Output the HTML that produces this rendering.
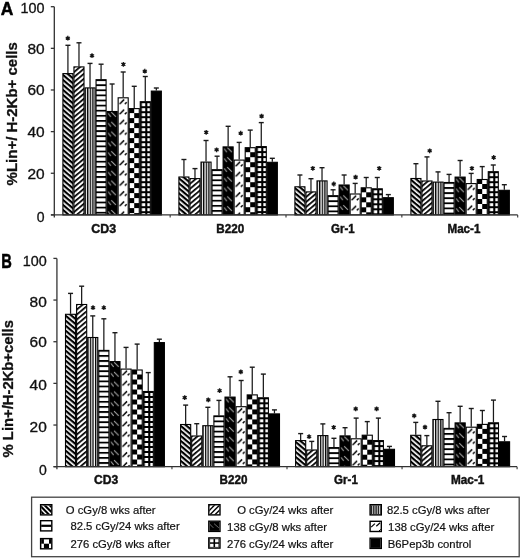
<!DOCTYPE html>
<html><head><meta charset="utf-8"><title>Chart</title>
<style>html,body{margin:0;padding:0;background:#fff;width:520px;height:558px;overflow:hidden;font-family:"Liberation Sans",sans-serif} svg{display:block;filter:grayscale(100%)}</style>
</head><body>
<svg width="520" height="558" viewBox="0 0 520 558"><defs><pattern id="p1" patternUnits="userSpaceOnUse" width="20" height="3.830" patternTransform="translate(62.40,73.10) rotate(40)"><rect width="20" height="3.830" fill="#fff"/><rect y="0" width="20" height="2.183" fill="#000"/></pattern><pattern id="p2" patternUnits="userSpaceOnUse" width="20" height="3.830" patternTransform="translate(73.45,66.40) rotate(-40)"><rect width="20" height="3.830" fill="#fff"/><rect y="0" width="20" height="1.724" fill="#000"/></pattern><pattern id="p3" patternUnits="userSpaceOnUse" x="84.50" y="87.40" width="2.6" height="10"><rect width="2.6" height="10" fill="#fff"/><rect x="0" width="1.3" height="10" fill="#000"/></pattern><pattern id="p4" patternUnits="userSpaceOnUse" x="95.55" y="79.20" width="20" height="5.1"><rect width="20" height="5.1" fill="#fff"/><rect y="0" width="20" height="1.8" fill="#000"/></pattern><pattern id="p5" patternUnits="userSpaceOnUse" x="106.60" y="111.00" width="11.05" height="9.8"><rect width="11.05" height="9.8" fill="#000"/><line x1="1.4" y1="2.2" x2="4.3" y2="5.8" stroke="#aaa" stroke-width="1"/><line x1="4.7" y1="1.1" x2="9.3" y2="5.8" stroke="#aaa" stroke-width="1"/></pattern><pattern id="p6" patternUnits="userSpaceOnUse" x="117.65" y="97.30" width="11.05" height="10.2"><rect width="11.05" height="10.2" fill="#fff"/><line x1="2.0" y1="6.7" x2="6.5" y2="2.2" stroke="#000" stroke-width="1.5"/><line x1="7.2" y1="6.7" x2="9.0" y2="4.9" stroke="#000" stroke-width="1.5"/></pattern><pattern id="p7" patternUnits="userSpaceOnUse" x="128.70" y="108.10" width="11.05" height="10"><rect width="11.05" height="10" fill="#fff"/><rect x="0" y="0" width="5.53" height="5" fill="#000"/><rect x="5.53" y="5" width="5.53" height="5" fill="#000"/></pattern><pattern id="p8" patternUnits="userSpaceOnUse" x="139.75" y="101.20" width="5.525" height="5"><rect width="5.525" height="5" fill="#fff"/><rect x="0" y="0" width="5.53" height="5" fill="#000"/><rect x="2.1" y="2" width="3.4" height="3" fill="#fff"/></pattern><pattern id="p9" patternUnits="userSpaceOnUse" width="20" height="3.830" patternTransform="translate(178.40,176.50) rotate(40)"><rect width="20" height="3.830" fill="#fff"/><rect y="0" width="20" height="2.183" fill="#000"/></pattern><pattern id="p10" patternUnits="userSpaceOnUse" width="20" height="3.830" patternTransform="translate(189.45,178.10) rotate(-40)"><rect width="20" height="3.830" fill="#fff"/><rect y="0" width="20" height="1.724" fill="#000"/></pattern><pattern id="p11" patternUnits="userSpaceOnUse" x="200.50" y="161.60" width="2.6" height="10"><rect width="2.6" height="10" fill="#fff"/><rect x="0" width="1.3" height="10" fill="#000"/></pattern><pattern id="p12" patternUnits="userSpaceOnUse" x="211.55" y="169.20" width="20" height="5.1"><rect width="20" height="5.1" fill="#fff"/><rect y="0" width="20" height="1.8" fill="#000"/></pattern><pattern id="p13" patternUnits="userSpaceOnUse" x="222.60" y="146.40" width="11.05" height="9.8"><rect width="11.05" height="9.8" fill="#000"/><line x1="1.4" y1="2.2" x2="4.3" y2="5.8" stroke="#aaa" stroke-width="1"/><line x1="4.7" y1="1.1" x2="9.3" y2="5.8" stroke="#aaa" stroke-width="1"/></pattern><pattern id="p14" patternUnits="userSpaceOnUse" x="233.65" y="159.60" width="11.05" height="10.2"><rect width="11.05" height="10.2" fill="#fff"/><line x1="2.0" y1="6.7" x2="6.5" y2="2.2" stroke="#000" stroke-width="1.5"/><line x1="7.2" y1="6.7" x2="9.0" y2="4.9" stroke="#000" stroke-width="1.5"/></pattern><pattern id="p15" patternUnits="userSpaceOnUse" x="244.70" y="147.20" width="11.05" height="10"><rect width="11.05" height="10" fill="#fff"/><rect x="0" y="0" width="5.53" height="5" fill="#000"/><rect x="5.53" y="5" width="5.53" height="5" fill="#000"/></pattern><pattern id="p16" patternUnits="userSpaceOnUse" x="255.75" y="146.10" width="5.525" height="5"><rect width="5.525" height="5" fill="#fff"/><rect x="0" y="0" width="5.53" height="5" fill="#000"/><rect x="2.1" y="2" width="3.4" height="3" fill="#fff"/></pattern><pattern id="p17" patternUnits="userSpaceOnUse" width="20" height="3.830" patternTransform="translate(294.40,186.30) rotate(40)"><rect width="20" height="3.830" fill="#fff"/><rect y="0" width="20" height="2.183" fill="#000"/></pattern><pattern id="p18" patternUnits="userSpaceOnUse" width="20" height="3.830" patternTransform="translate(305.45,191.40) rotate(-40)"><rect width="20" height="3.830" fill="#fff"/><rect y="0" width="20" height="1.724" fill="#000"/></pattern><pattern id="p19" patternUnits="userSpaceOnUse" x="316.50" y="180.40" width="2.6" height="10"><rect width="2.6" height="10" fill="#fff"/><rect x="0" width="1.3" height="10" fill="#000"/></pattern><pattern id="p20" patternUnits="userSpaceOnUse" x="327.55" y="195.20" width="20" height="5.1"><rect width="20" height="5.1" fill="#fff"/><rect y="0" width="20" height="1.8" fill="#000"/></pattern><pattern id="p21" patternUnits="userSpaceOnUse" x="338.60" y="184.50" width="11.05" height="9.8"><rect width="11.05" height="9.8" fill="#000"/><line x1="1.4" y1="2.2" x2="4.3" y2="5.8" stroke="#aaa" stroke-width="1"/><line x1="4.7" y1="1.1" x2="9.3" y2="5.8" stroke="#aaa" stroke-width="1"/></pattern><pattern id="p22" patternUnits="userSpaceOnUse" x="349.65" y="193.50" width="11.05" height="10.2"><rect width="11.05" height="10.2" fill="#fff"/><line x1="2.0" y1="6.7" x2="6.5" y2="2.2" stroke="#000" stroke-width="1.5"/><line x1="7.2" y1="6.7" x2="9.0" y2="4.9" stroke="#000" stroke-width="1.5"/></pattern><pattern id="p23" patternUnits="userSpaceOnUse" x="360.70" y="187.30" width="11.05" height="10"><rect width="11.05" height="10" fill="#fff"/><rect x="0" y="0" width="5.53" height="5" fill="#000"/><rect x="5.53" y="5" width="5.53" height="5" fill="#000"/></pattern><pattern id="p24" patternUnits="userSpaceOnUse" x="371.75" y="188.30" width="5.525" height="5"><rect width="5.525" height="5" fill="#fff"/><rect x="0" y="0" width="5.53" height="5" fill="#000"/><rect x="2.1" y="2" width="3.4" height="3" fill="#fff"/></pattern><pattern id="p25" patternUnits="userSpaceOnUse" width="20" height="3.830" patternTransform="translate(410.40,178.00) rotate(40)"><rect width="20" height="3.830" fill="#fff"/><rect y="0" width="20" height="2.183" fill="#000"/></pattern><pattern id="p26" patternUnits="userSpaceOnUse" width="20" height="3.830" patternTransform="translate(421.45,180.50) rotate(-40)"><rect width="20" height="3.830" fill="#fff"/><rect y="0" width="20" height="1.724" fill="#000"/></pattern><pattern id="p27" patternUnits="userSpaceOnUse" x="432.50" y="181.60" width="2.6" height="10"><rect width="2.6" height="10" fill="#fff"/><rect x="0" width="1.3" height="10" fill="#000"/></pattern><pattern id="p28" patternUnits="userSpaceOnUse" x="443.55" y="182.00" width="20" height="5.1"><rect width="20" height="5.1" fill="#fff"/><rect y="0" width="20" height="1.8" fill="#000"/></pattern><pattern id="p29" patternUnits="userSpaceOnUse" x="454.60" y="176.60" width="11.05" height="9.8"><rect width="11.05" height="9.8" fill="#000"/><line x1="1.4" y1="2.2" x2="4.3" y2="5.8" stroke="#aaa" stroke-width="1"/><line x1="4.7" y1="1.1" x2="9.3" y2="5.8" stroke="#aaa" stroke-width="1"/></pattern><pattern id="p30" patternUnits="userSpaceOnUse" x="465.65" y="183.10" width="11.05" height="10.2"><rect width="11.05" height="10.2" fill="#fff"/><line x1="2.0" y1="6.7" x2="6.5" y2="2.2" stroke="#000" stroke-width="1.5"/><line x1="7.2" y1="6.7" x2="9.0" y2="4.9" stroke="#000" stroke-width="1.5"/></pattern><pattern id="p31" patternUnits="userSpaceOnUse" x="476.70" y="179.00" width="11.05" height="10"><rect width="11.05" height="10" fill="#fff"/><rect x="0" y="0" width="5.53" height="5" fill="#000"/><rect x="5.53" y="5" width="5.53" height="5" fill="#000"/></pattern><pattern id="p32" patternUnits="userSpaceOnUse" x="487.75" y="171.20" width="5.525" height="5"><rect width="5.525" height="5" fill="#fff"/><rect x="0" y="0" width="5.53" height="5" fill="#000"/><rect x="2.1" y="2" width="3.4" height="3" fill="#fff"/></pattern><pattern id="p33" patternUnits="userSpaceOnUse" width="20" height="3.830" patternTransform="translate(65.00,313.80) rotate(40)"><rect width="20" height="3.830" fill="#fff"/><rect y="0" width="20" height="2.183" fill="#000"/></pattern><pattern id="p34" patternUnits="userSpaceOnUse" width="20" height="3.830" patternTransform="translate(76.10,304.00) rotate(-40)"><rect width="20" height="3.830" fill="#fff"/><rect y="0" width="20" height="1.724" fill="#000"/></pattern><pattern id="p35" patternUnits="userSpaceOnUse" x="87.20" y="337.00" width="2.6" height="10"><rect width="2.6" height="10" fill="#fff"/><rect x="0" width="1.3" height="10" fill="#000"/></pattern><pattern id="p36" patternUnits="userSpaceOnUse" x="98.30" y="349.90" width="20" height="5.1"><rect width="20" height="5.1" fill="#fff"/><rect y="0" width="20" height="1.8" fill="#000"/></pattern><pattern id="p37" patternUnits="userSpaceOnUse" x="109.40" y="361.10" width="11.1" height="9.8"><rect width="11.1" height="9.8" fill="#000"/><line x1="1.4" y1="2.2" x2="4.3" y2="5.8" stroke="#aaa" stroke-width="1"/><line x1="4.7" y1="1.1" x2="9.3" y2="5.8" stroke="#aaa" stroke-width="1"/></pattern><pattern id="p38" patternUnits="userSpaceOnUse" x="120.50" y="368.60" width="11.1" height="10.2"><rect width="11.1" height="10.2" fill="#fff"/><line x1="2.0" y1="6.7" x2="6.5" y2="2.2" stroke="#000" stroke-width="1.5"/><line x1="7.2" y1="6.7" x2="9.0" y2="4.9" stroke="#000" stroke-width="1.5"/></pattern><pattern id="p39" patternUnits="userSpaceOnUse" x="131.60" y="369.50" width="11.1" height="10"><rect width="11.1" height="10" fill="#fff"/><rect x="0" y="0" width="5.55" height="5" fill="#000"/><rect x="5.55" y="5" width="5.55" height="5" fill="#000"/></pattern><pattern id="p40" patternUnits="userSpaceOnUse" x="142.70" y="391.00" width="5.55" height="5"><rect width="5.55" height="5" fill="#fff"/><rect x="0" y="0" width="5.55" height="5" fill="#000"/><rect x="2.1" y="2" width="3.4" height="3" fill="#fff"/></pattern><pattern id="p41" patternUnits="userSpaceOnUse" width="20" height="3.830" patternTransform="translate(180.10,424.00) rotate(40)"><rect width="20" height="3.830" fill="#fff"/><rect y="0" width="20" height="2.183" fill="#000"/></pattern><pattern id="p42" patternUnits="userSpaceOnUse" width="20" height="3.830" patternTransform="translate(191.20,435.50) rotate(-40)"><rect width="20" height="3.830" fill="#fff"/><rect y="0" width="20" height="1.724" fill="#000"/></pattern><pattern id="p43" patternUnits="userSpaceOnUse" x="202.30" y="425.20" width="2.6" height="10"><rect width="2.6" height="10" fill="#fff"/><rect x="0" width="1.3" height="10" fill="#000"/></pattern><pattern id="p44" patternUnits="userSpaceOnUse" x="213.40" y="415.40" width="20" height="5.1"><rect width="20" height="5.1" fill="#fff"/><rect y="0" width="20" height="1.8" fill="#000"/></pattern><pattern id="p45" patternUnits="userSpaceOnUse" x="224.50" y="396.60" width="11.1" height="9.8"><rect width="11.1" height="9.8" fill="#000"/><line x1="1.4" y1="2.2" x2="4.3" y2="5.8" stroke="#aaa" stroke-width="1"/><line x1="4.7" y1="1.1" x2="9.3" y2="5.8" stroke="#aaa" stroke-width="1"/></pattern><pattern id="p46" patternUnits="userSpaceOnUse" x="235.60" y="406.20" width="11.1" height="10.2"><rect width="11.1" height="10.2" fill="#fff"/><line x1="2.0" y1="6.7" x2="6.5" y2="2.2" stroke="#000" stroke-width="1.5"/><line x1="7.2" y1="6.7" x2="9.0" y2="4.9" stroke="#000" stroke-width="1.5"/></pattern><pattern id="p47" patternUnits="userSpaceOnUse" x="246.70" y="394.40" width="11.1" height="10"><rect width="11.1" height="10" fill="#fff"/><rect x="0" y="0" width="5.55" height="5" fill="#000"/><rect x="5.55" y="5" width="5.55" height="5" fill="#000"/></pattern><pattern id="p48" patternUnits="userSpaceOnUse" x="257.80" y="397.30" width="5.55" height="5"><rect width="5.55" height="5" fill="#fff"/><rect x="0" y="0" width="5.55" height="5" fill="#000"/><rect x="2.1" y="2" width="3.4" height="3" fill="#fff"/></pattern><pattern id="p49" patternUnits="userSpaceOnUse" width="20" height="3.830" patternTransform="translate(295.10,440.10) rotate(40)"><rect width="20" height="3.830" fill="#fff"/><rect y="0" width="20" height="2.183" fill="#000"/></pattern><pattern id="p50" patternUnits="userSpaceOnUse" width="20" height="3.830" patternTransform="translate(306.20,449.50) rotate(-40)"><rect width="20" height="3.830" fill="#fff"/><rect y="0" width="20" height="1.724" fill="#000"/></pattern><pattern id="p51" patternUnits="userSpaceOnUse" x="317.30" y="435.10" width="2.6" height="10"><rect width="2.6" height="10" fill="#fff"/><rect x="0" width="1.3" height="10" fill="#000"/></pattern><pattern id="p52" patternUnits="userSpaceOnUse" x="328.40" y="447.10" width="20" height="5.1"><rect width="20" height="5.1" fill="#fff"/><rect y="0" width="20" height="1.8" fill="#000"/></pattern><pattern id="p53" patternUnits="userSpaceOnUse" x="339.50" y="435.40" width="11.1" height="9.8"><rect width="11.1" height="9.8" fill="#000"/><line x1="1.4" y1="2.2" x2="4.3" y2="5.8" stroke="#aaa" stroke-width="1"/><line x1="4.7" y1="1.1" x2="9.3" y2="5.8" stroke="#aaa" stroke-width="1"/></pattern><pattern id="p54" patternUnits="userSpaceOnUse" x="350.60" y="438.30" width="11.1" height="10.2"><rect width="11.1" height="10.2" fill="#fff"/><line x1="2.0" y1="6.7" x2="6.5" y2="2.2" stroke="#000" stroke-width="1.5"/><line x1="7.2" y1="6.7" x2="9.0" y2="4.9" stroke="#000" stroke-width="1.5"/></pattern><pattern id="p55" patternUnits="userSpaceOnUse" x="361.70" y="434.70" width="11.1" height="10"><rect width="11.1" height="10" fill="#fff"/><rect x="0" y="0" width="5.55" height="5" fill="#000"/><rect x="5.55" y="5" width="5.55" height="5" fill="#000"/></pattern><pattern id="p56" patternUnits="userSpaceOnUse" x="372.80" y="440.10" width="5.55" height="5"><rect width="5.55" height="5" fill="#fff"/><rect x="0" y="0" width="5.55" height="5" fill="#000"/><rect x="2.1" y="2" width="3.4" height="3" fill="#fff"/></pattern><pattern id="p57" patternUnits="userSpaceOnUse" width="20" height="3.830" patternTransform="translate(410.20,434.80) rotate(40)"><rect width="20" height="3.830" fill="#fff"/><rect y="0" width="20" height="2.183" fill="#000"/></pattern><pattern id="p58" patternUnits="userSpaceOnUse" width="20" height="3.830" patternTransform="translate(421.30,445.30) rotate(-40)"><rect width="20" height="3.830" fill="#fff"/><rect y="0" width="20" height="1.724" fill="#000"/></pattern><pattern id="p59" patternUnits="userSpaceOnUse" x="432.40" y="419.00" width="2.6" height="10"><rect width="2.6" height="10" fill="#fff"/><rect x="0" width="1.3" height="10" fill="#000"/></pattern><pattern id="p60" patternUnits="userSpaceOnUse" x="443.50" y="427.90" width="20" height="5.1"><rect width="20" height="5.1" fill="#fff"/><rect y="0" width="20" height="1.8" fill="#000"/></pattern><pattern id="p61" patternUnits="userSpaceOnUse" x="454.60" y="422.40" width="11.1" height="9.8"><rect width="11.1" height="9.8" fill="#000"/><line x1="1.4" y1="2.2" x2="4.3" y2="5.8" stroke="#aaa" stroke-width="1"/><line x1="4.7" y1="1.1" x2="9.3" y2="5.8" stroke="#aaa" stroke-width="1"/></pattern><pattern id="p62" patternUnits="userSpaceOnUse" x="465.70" y="426.70" width="11.1" height="10.2"><rect width="11.1" height="10.2" fill="#fff"/><line x1="2.0" y1="6.7" x2="6.5" y2="2.2" stroke="#000" stroke-width="1.5"/><line x1="7.2" y1="6.7" x2="9.0" y2="4.9" stroke="#000" stroke-width="1.5"/></pattern><pattern id="p63" patternUnits="userSpaceOnUse" x="476.80" y="423.90" width="11.1" height="10"><rect width="11.1" height="10" fill="#fff"/><rect x="0" y="0" width="5.55" height="5" fill="#000"/><rect x="5.55" y="5" width="5.55" height="5" fill="#000"/></pattern><pattern id="p64" patternUnits="userSpaceOnUse" x="487.90" y="422.30" width="5.55" height="5"><rect width="5.55" height="5" fill="#fff"/><rect x="0" y="0" width="5.55" height="5" fill="#000"/><rect x="2.1" y="2" width="3.4" height="3" fill="#fff"/></pattern><clipPath id="c1"><rect x="41.10" y="505.20" width="10.20" height="9.20"/></clipPath><clipPath id="c2"><rect x="41.10" y="521.20" width="10.20" height="9.20"/></clipPath><clipPath id="c3"><rect x="41.10" y="539.10" width="10.20" height="9.20"/></clipPath><clipPath id="c4"><rect x="209.30" y="505.20" width="10.20" height="9.20"/></clipPath><clipPath id="c5"><rect x="209.30" y="521.70" width="10.20" height="9.20"/></clipPath><clipPath id="c6"><rect x="209.30" y="538.40" width="10.20" height="9.20"/></clipPath><clipPath id="c7"><rect x="370.60" y="505.20" width="10.20" height="9.20"/></clipPath><clipPath id="c8"><rect x="370.60" y="521.80" width="10.20" height="9.20"/></clipPath><clipPath id="c9"><rect x="370.60" y="538.70" width="10.20" height="9.20"/></clipPath></defs><rect width="520" height="558" fill="#fff"/><line x1="67.92" y1="73.10" x2="67.92" y2="45.30" stroke="#1a1a1a" stroke-width="1.25"/>
<line x1="65.42" y1="45.30" x2="70.42" y2="45.30" stroke="#1a1a1a" stroke-width="1.4"/>
<rect x="62.90" y="73.60" width="10.05" height="141.30" fill="url(#p1)" stroke="#000" stroke-width="1.1"/>
<line x1="78.98" y1="66.40" x2="78.98" y2="42.80" stroke="#1a1a1a" stroke-width="1.25"/>
<line x1="76.48" y1="42.80" x2="81.48" y2="42.80" stroke="#1a1a1a" stroke-width="1.4"/>
<rect x="73.95" y="66.90" width="10.05" height="148.00" fill="url(#p2)" stroke="#000" stroke-width="1.1"/>
<line x1="90.03" y1="87.40" x2="90.03" y2="63.40" stroke="#1a1a1a" stroke-width="1.25"/>
<line x1="87.53" y1="63.40" x2="92.53" y2="63.40" stroke="#1a1a1a" stroke-width="1.4"/>
<rect x="85.00" y="87.90" width="10.05" height="127.00" fill="url(#p3)" stroke="#000" stroke-width="1.1"/>
<line x1="101.08" y1="79.20" x2="101.08" y2="64.20" stroke="#1a1a1a" stroke-width="1.25"/>
<line x1="98.58" y1="64.20" x2="103.58" y2="64.20" stroke="#1a1a1a" stroke-width="1.4"/>
<rect x="96.05" y="79.70" width="10.05" height="135.20" fill="url(#p4)" stroke="#000" stroke-width="1.1"/>
<line x1="112.12" y1="111.00" x2="112.12" y2="84.00" stroke="#1a1a1a" stroke-width="1.25"/>
<line x1="109.62" y1="84.00" x2="114.62" y2="84.00" stroke="#1a1a1a" stroke-width="1.4"/>
<rect x="107.10" y="111.50" width="10.05" height="103.40" fill="url(#p5)" stroke="#000" stroke-width="1.1"/>
<line x1="123.18" y1="97.30" x2="123.18" y2="72.00" stroke="#1a1a1a" stroke-width="1.25"/>
<line x1="120.68" y1="72.00" x2="125.68" y2="72.00" stroke="#1a1a1a" stroke-width="1.4"/>
<rect x="118.15" y="97.80" width="10.05" height="117.10" fill="url(#p6)" stroke="#000" stroke-width="1.1"/>
<line x1="134.23" y1="108.10" x2="134.23" y2="86.30" stroke="#1a1a1a" stroke-width="1.25"/>
<line x1="131.73" y1="86.30" x2="136.73" y2="86.30" stroke="#1a1a1a" stroke-width="1.4"/>
<rect x="129.20" y="108.60" width="10.05" height="106.30" fill="url(#p7)" stroke="#000" stroke-width="1.1"/>
<line x1="145.28" y1="101.20" x2="145.28" y2="76.50" stroke="#1a1a1a" stroke-width="1.25"/>
<line x1="142.78" y1="76.50" x2="147.78" y2="76.50" stroke="#1a1a1a" stroke-width="1.4"/>
<rect x="140.25" y="101.70" width="10.05" height="113.20" fill="url(#p8)" stroke="#000" stroke-width="1.1"/>
<line x1="156.33" y1="90.60" x2="156.33" y2="88.00" stroke="#1a1a1a" stroke-width="1.25"/>
<line x1="153.83" y1="88.00" x2="158.83" y2="88.00" stroke="#1a1a1a" stroke-width="1.4"/>
<rect x="151.30" y="91.10" width="10.05" height="123.80" fill="#000" stroke="#000" stroke-width="1.1"/>
<path d="M67.80,35.80L67.80,40.60M65.72,37.00L69.88,39.40M65.72,39.40L69.88,37.00" stroke="#222" stroke-width="1.4" fill="none"/><circle cx="67.80" cy="38.20" r="1.3" fill="#111"/>
<path d="M92.00,53.30L92.00,58.10M89.92,54.50L94.08,56.90M89.92,56.90L94.08,54.50" stroke="#222" stroke-width="1.4" fill="none"/><circle cx="92.00" cy="55.70" r="1.3" fill="#111"/>
<path d="M123.40,61.90L123.40,66.70M121.32,63.10L125.48,65.50M121.32,65.50L125.48,63.10" stroke="#222" stroke-width="1.4" fill="none"/><circle cx="123.40" cy="64.30" r="1.3" fill="#111"/>
<path d="M144.80,68.80L144.80,73.60M142.72,70.00L146.88,72.40M142.72,72.40L146.88,70.00" stroke="#222" stroke-width="1.4" fill="none"/><circle cx="144.80" cy="71.20" r="1.3" fill="#111"/>
<line x1="183.93" y1="176.50" x2="183.93" y2="159.50" stroke="#1a1a1a" stroke-width="1.25"/>
<line x1="181.43" y1="159.50" x2="186.43" y2="159.50" stroke="#1a1a1a" stroke-width="1.4"/>
<rect x="178.90" y="177.00" width="10.05" height="37.90" fill="url(#p9)" stroke="#000" stroke-width="1.1"/>
<line x1="194.98" y1="178.10" x2="194.98" y2="168.60" stroke="#1a1a1a" stroke-width="1.25"/>
<line x1="192.48" y1="168.60" x2="197.48" y2="168.60" stroke="#1a1a1a" stroke-width="1.4"/>
<rect x="189.95" y="178.60" width="10.05" height="36.30" fill="url(#p10)" stroke="#000" stroke-width="1.1"/>
<line x1="206.03" y1="161.60" x2="206.03" y2="140.50" stroke="#1a1a1a" stroke-width="1.25"/>
<line x1="203.53" y1="140.50" x2="208.53" y2="140.50" stroke="#1a1a1a" stroke-width="1.4"/>
<rect x="201.00" y="162.10" width="10.05" height="52.80" fill="url(#p11)" stroke="#000" stroke-width="1.1"/>
<line x1="217.08" y1="169.20" x2="217.08" y2="156.20" stroke="#1a1a1a" stroke-width="1.25"/>
<line x1="214.58" y1="156.20" x2="219.58" y2="156.20" stroke="#1a1a1a" stroke-width="1.4"/>
<rect x="212.05" y="169.70" width="10.05" height="45.20" fill="url(#p12)" stroke="#000" stroke-width="1.1"/>
<line x1="228.13" y1="146.40" x2="228.13" y2="126.30" stroke="#1a1a1a" stroke-width="1.25"/>
<line x1="225.63" y1="126.30" x2="230.63" y2="126.30" stroke="#1a1a1a" stroke-width="1.4"/>
<rect x="223.10" y="146.90" width="10.05" height="68.00" fill="url(#p13)" stroke="#000" stroke-width="1.1"/>
<line x1="239.18" y1="159.60" x2="239.18" y2="142.40" stroke="#1a1a1a" stroke-width="1.25"/>
<line x1="236.68" y1="142.40" x2="241.68" y2="142.40" stroke="#1a1a1a" stroke-width="1.4"/>
<rect x="234.15" y="160.10" width="10.05" height="54.80" fill="url(#p14)" stroke="#000" stroke-width="1.1"/>
<line x1="250.23" y1="147.20" x2="250.23" y2="130.10" stroke="#1a1a1a" stroke-width="1.25"/>
<line x1="247.73" y1="130.10" x2="252.73" y2="130.10" stroke="#1a1a1a" stroke-width="1.4"/>
<rect x="245.20" y="147.70" width="10.05" height="67.20" fill="url(#p15)" stroke="#000" stroke-width="1.1"/>
<line x1="261.27" y1="146.10" x2="261.27" y2="122.60" stroke="#1a1a1a" stroke-width="1.25"/>
<line x1="258.77" y1="122.60" x2="263.77" y2="122.60" stroke="#1a1a1a" stroke-width="1.4"/>
<rect x="256.25" y="146.60" width="10.05" height="68.30" fill="url(#p16)" stroke="#000" stroke-width="1.1"/>
<line x1="272.32" y1="161.80" x2="272.32" y2="158.30" stroke="#1a1a1a" stroke-width="1.25"/>
<line x1="269.82" y1="158.30" x2="274.82" y2="158.30" stroke="#1a1a1a" stroke-width="1.4"/>
<rect x="267.30" y="162.30" width="10.05" height="52.60" fill="#000" stroke="#000" stroke-width="1.1"/>
<path d="M206.20,129.90L206.20,134.70M204.12,131.10L208.28,133.50M204.12,133.50L208.28,131.10" stroke="#222" stroke-width="1.4" fill="none"/><circle cx="206.20" cy="132.30" r="1.3" fill="#111"/>
<path d="M216.60,147.40L216.60,152.20M214.52,148.60L218.68,151.00M214.52,151.00L218.68,148.60" stroke="#222" stroke-width="1.4" fill="none"/><circle cx="216.60" cy="149.80" r="1.3" fill="#111"/>
<path d="M240.70,130.80L240.70,135.60M238.62,132.00L242.78,134.40M238.62,134.40L242.78,132.00" stroke="#222" stroke-width="1.4" fill="none"/><circle cx="240.70" cy="133.20" r="1.3" fill="#111"/>
<path d="M261.60,113.70L261.60,118.50M259.52,114.90L263.68,117.30M259.52,117.30L263.68,114.90" stroke="#222" stroke-width="1.4" fill="none"/><circle cx="261.60" cy="116.10" r="1.3" fill="#111"/>
<line x1="299.92" y1="186.30" x2="299.92" y2="175.00" stroke="#1a1a1a" stroke-width="1.25"/>
<line x1="297.42" y1="175.00" x2="302.42" y2="175.00" stroke="#1a1a1a" stroke-width="1.4"/>
<rect x="294.90" y="186.80" width="10.05" height="28.10" fill="url(#p17)" stroke="#000" stroke-width="1.1"/>
<line x1="310.97" y1="191.40" x2="310.97" y2="178.70" stroke="#1a1a1a" stroke-width="1.25"/>
<line x1="308.47" y1="178.70" x2="313.47" y2="178.70" stroke="#1a1a1a" stroke-width="1.4"/>
<rect x="305.95" y="191.90" width="10.05" height="23.00" fill="url(#p18)" stroke="#000" stroke-width="1.1"/>
<line x1="322.02" y1="180.40" x2="322.02" y2="167.70" stroke="#1a1a1a" stroke-width="1.25"/>
<line x1="319.52" y1="167.70" x2="324.52" y2="167.70" stroke="#1a1a1a" stroke-width="1.4"/>
<rect x="317.00" y="180.90" width="10.05" height="34.00" fill="url(#p19)" stroke="#000" stroke-width="1.1"/>
<line x1="333.07" y1="195.20" x2="333.07" y2="189.80" stroke="#1a1a1a" stroke-width="1.25"/>
<line x1="330.57" y1="189.80" x2="335.57" y2="189.80" stroke="#1a1a1a" stroke-width="1.4"/>
<rect x="328.05" y="195.70" width="10.05" height="19.20" fill="url(#p20)" stroke="#000" stroke-width="1.1"/>
<line x1="344.12" y1="184.50" x2="344.12" y2="175.00" stroke="#1a1a1a" stroke-width="1.25"/>
<line x1="341.62" y1="175.00" x2="346.62" y2="175.00" stroke="#1a1a1a" stroke-width="1.4"/>
<rect x="339.10" y="185.00" width="10.05" height="29.90" fill="url(#p21)" stroke="#000" stroke-width="1.1"/>
<line x1="355.17" y1="193.50" x2="355.17" y2="183.40" stroke="#1a1a1a" stroke-width="1.25"/>
<line x1="352.67" y1="183.40" x2="357.67" y2="183.40" stroke="#1a1a1a" stroke-width="1.4"/>
<rect x="350.15" y="194.00" width="10.05" height="20.90" fill="url(#p22)" stroke="#000" stroke-width="1.1"/>
<line x1="366.22" y1="187.30" x2="366.22" y2="177.50" stroke="#1a1a1a" stroke-width="1.25"/>
<line x1="363.72" y1="177.50" x2="368.72" y2="177.50" stroke="#1a1a1a" stroke-width="1.4"/>
<rect x="361.20" y="187.80" width="10.05" height="27.10" fill="url(#p23)" stroke="#000" stroke-width="1.1"/>
<line x1="377.27" y1="188.30" x2="377.27" y2="177.50" stroke="#1a1a1a" stroke-width="1.25"/>
<line x1="374.77" y1="177.50" x2="379.77" y2="177.50" stroke="#1a1a1a" stroke-width="1.4"/>
<rect x="372.25" y="188.80" width="10.05" height="26.10" fill="url(#p24)" stroke="#000" stroke-width="1.1"/>
<line x1="388.32" y1="197.20" x2="388.32" y2="194.60" stroke="#1a1a1a" stroke-width="1.25"/>
<line x1="385.82" y1="194.60" x2="390.82" y2="194.60" stroke="#1a1a1a" stroke-width="1.4"/>
<rect x="383.30" y="197.70" width="10.05" height="17.20" fill="#000" stroke="#000" stroke-width="1.1"/>
<path d="M312.80,165.90L312.80,170.70M310.72,167.10L314.88,169.50M310.72,169.50L314.88,167.10" stroke="#222" stroke-width="1.4" fill="none"/><circle cx="312.80" cy="168.30" r="1.3" fill="#111"/>
<path d="M333.80,181.60L333.80,186.40M331.72,182.80L335.88,185.20M331.72,185.20L335.88,182.80" stroke="#222" stroke-width="1.4" fill="none"/><circle cx="333.80" cy="184.00" r="1.3" fill="#111"/>
<path d="M355.60,174.70L355.60,179.50M353.52,175.90L357.68,178.30M353.52,178.30L357.68,175.90" stroke="#222" stroke-width="1.4" fill="none"/><circle cx="355.60" cy="177.10" r="1.3" fill="#111"/>
<path d="M379.20,165.90L379.20,170.70M377.12,167.10L381.28,169.50M377.12,169.50L381.28,167.10" stroke="#222" stroke-width="1.4" fill="none"/><circle cx="379.20" cy="168.30" r="1.3" fill="#111"/>
<line x1="415.92" y1="178.00" x2="415.92" y2="163.70" stroke="#1a1a1a" stroke-width="1.25"/>
<line x1="413.42" y1="163.70" x2="418.42" y2="163.70" stroke="#1a1a1a" stroke-width="1.4"/>
<rect x="410.90" y="178.50" width="10.05" height="36.40" fill="url(#p25)" stroke="#000" stroke-width="1.1"/>
<line x1="426.97" y1="180.50" x2="426.97" y2="156.90" stroke="#1a1a1a" stroke-width="1.25"/>
<line x1="424.47" y1="156.90" x2="429.47" y2="156.90" stroke="#1a1a1a" stroke-width="1.4"/>
<rect x="421.95" y="181.00" width="10.05" height="33.90" fill="url(#p26)" stroke="#000" stroke-width="1.1"/>
<line x1="438.02" y1="181.60" x2="438.02" y2="171.90" stroke="#1a1a1a" stroke-width="1.25"/>
<line x1="435.52" y1="171.90" x2="440.52" y2="171.90" stroke="#1a1a1a" stroke-width="1.4"/>
<rect x="433.00" y="182.10" width="10.05" height="32.80" fill="url(#p27)" stroke="#000" stroke-width="1.1"/>
<line x1="449.07" y1="182.00" x2="449.07" y2="174.40" stroke="#1a1a1a" stroke-width="1.25"/>
<line x1="446.57" y1="174.40" x2="451.57" y2="174.40" stroke="#1a1a1a" stroke-width="1.4"/>
<rect x="444.05" y="182.50" width="10.05" height="32.40" fill="url(#p28)" stroke="#000" stroke-width="1.1"/>
<line x1="460.12" y1="176.60" x2="460.12" y2="160.50" stroke="#1a1a1a" stroke-width="1.25"/>
<line x1="457.62" y1="160.50" x2="462.62" y2="160.50" stroke="#1a1a1a" stroke-width="1.4"/>
<rect x="455.10" y="177.10" width="10.05" height="37.80" fill="url(#p29)" stroke="#000" stroke-width="1.1"/>
<line x1="471.17" y1="183.10" x2="471.17" y2="173.40" stroke="#1a1a1a" stroke-width="1.25"/>
<line x1="468.67" y1="173.40" x2="473.67" y2="173.40" stroke="#1a1a1a" stroke-width="1.4"/>
<rect x="466.15" y="183.60" width="10.05" height="31.30" fill="url(#p30)" stroke="#000" stroke-width="1.1"/>
<line x1="482.22" y1="179.00" x2="482.22" y2="166.60" stroke="#1a1a1a" stroke-width="1.25"/>
<line x1="479.72" y1="166.60" x2="484.72" y2="166.60" stroke="#1a1a1a" stroke-width="1.4"/>
<rect x="477.20" y="179.50" width="10.05" height="35.40" fill="url(#p31)" stroke="#000" stroke-width="1.1"/>
<line x1="493.27" y1="171.20" x2="493.27" y2="165.00" stroke="#1a1a1a" stroke-width="1.25"/>
<line x1="490.77" y1="165.00" x2="495.77" y2="165.00" stroke="#1a1a1a" stroke-width="1.4"/>
<rect x="488.25" y="171.70" width="10.05" height="43.20" fill="url(#p32)" stroke="#000" stroke-width="1.1"/>
<line x1="504.32" y1="189.80" x2="504.32" y2="184.70" stroke="#1a1a1a" stroke-width="1.25"/>
<line x1="501.82" y1="184.70" x2="506.82" y2="184.70" stroke="#1a1a1a" stroke-width="1.4"/>
<rect x="499.30" y="190.30" width="10.05" height="24.60" fill="#000" stroke="#000" stroke-width="1.1"/>
<path d="M429.70,148.40L429.70,153.20M427.62,149.60L431.78,152.00M427.62,152.00L431.78,149.60" stroke="#222" stroke-width="1.4" fill="none"/><circle cx="429.70" cy="150.80" r="1.3" fill="#111"/>
<path d="M471.90,165.90L471.90,170.70M469.82,167.10L473.98,169.50M469.82,169.50L473.98,167.10" stroke="#222" stroke-width="1.4" fill="none"/><circle cx="471.90" cy="168.30" r="1.3" fill="#111"/>
<path d="M493.70,155.10L493.70,159.90M491.62,156.30L495.78,158.70M491.62,158.70L495.78,156.30" stroke="#222" stroke-width="1.4" fill="none"/><circle cx="493.70" cy="157.50" r="1.3" fill="#111"/>
<line x1="54.30" y1="6.70" x2="54.30" y2="217.40" stroke="#2a2a2a" stroke-width="1.25"/>
<line x1="51.00" y1="214.90" x2="517.70" y2="214.90" stroke="#333" stroke-width="1.3"/>
<line x1="50.80" y1="6.70" x2="54.30" y2="6.70" stroke="#333" stroke-width="1.3"/>
<line x1="50.80" y1="48.34" x2="54.30" y2="48.34" stroke="#333" stroke-width="1.3"/>
<line x1="50.80" y1="89.98" x2="54.30" y2="89.98" stroke="#333" stroke-width="1.3"/>
<line x1="50.80" y1="131.62" x2="54.30" y2="131.62" stroke="#333" stroke-width="1.3"/>
<line x1="50.80" y1="173.26" x2="54.30" y2="173.26" stroke="#333" stroke-width="1.3"/>
<line x1="50.80" y1="214.90" x2="54.30" y2="214.90" stroke="#333" stroke-width="1.3"/>
<line x1="170.15" y1="214.90" x2="170.15" y2="217.40" stroke="#333" stroke-width="1.1"/>
<line x1="286.00" y1="214.90" x2="286.00" y2="217.40" stroke="#333" stroke-width="1.1"/>
<line x1="401.85" y1="214.90" x2="401.85" y2="217.40" stroke="#333" stroke-width="1.1"/>
<line x1="517.70" y1="214.90" x2="517.70" y2="217.40" stroke="#333" stroke-width="1.1"/>
<text x="20.60" y="12.64" font-size="13.8" font-family="Liberation Sans, sans-serif" textLength="24.0" lengthAdjust="spacingAndGlyphs" fill="#111" stroke="#111" stroke-width="0.3">100</text>
<text x="27.40" y="53.64" font-size="13.8" font-family="Liberation Sans, sans-serif" textLength="17.2" lengthAdjust="spacingAndGlyphs" fill="#111" stroke="#111" stroke-width="0.3">80</text>
<text x="27.40" y="95.24" font-size="13.8" font-family="Liberation Sans, sans-serif" textLength="17.2" lengthAdjust="spacingAndGlyphs" fill="#111" stroke="#111" stroke-width="0.3">60</text>
<text x="27.40" y="136.94" font-size="13.8" font-family="Liberation Sans, sans-serif" textLength="17.2" lengthAdjust="spacingAndGlyphs" fill="#111" stroke="#111" stroke-width="0.3">40</text>
<text x="27.40" y="178.74" font-size="13.8" font-family="Liberation Sans, sans-serif" textLength="17.2" lengthAdjust="spacingAndGlyphs" fill="#111" stroke="#111" stroke-width="0.3">20</text>
<text x="36.80" y="221.64" font-size="13.8" font-family="Liberation Sans, sans-serif" textLength="7.8" lengthAdjust="spacingAndGlyphs" fill="#111" stroke="#111" stroke-width="0.3">0</text>
<text x="91.30" y="233.10" font-size="12.6" font-weight="bold" font-family="Liberation Sans, sans-serif" textLength="24.80" lengthAdjust="spacingAndGlyphs" fill="#111" stroke="#111" stroke-width="0.45">CD3</text>
<text x="216.30" y="233.10" font-size="12.6" font-weight="bold" font-family="Liberation Sans, sans-serif" textLength="27.90" lengthAdjust="spacingAndGlyphs" fill="#111" stroke="#111" stroke-width="0.45">B220</text>
<text x="331.00" y="233.10" font-size="12.6" font-weight="bold" font-family="Liberation Sans, sans-serif" textLength="23.60" lengthAdjust="spacingAndGlyphs" fill="#111" stroke="#111" stroke-width="0.45">Gr-1</text>
<text x="447.50" y="233.10" font-size="12.6" font-weight="bold" font-family="Liberation Sans, sans-serif" textLength="32.90" lengthAdjust="spacingAndGlyphs" fill="#111" stroke="#111" stroke-width="0.45">Mac-1</text>
<text x="0.80" y="14.80" font-size="18.5" font-weight="bold" font-family="Liberation Sans, sans-serif" textLength="12.60" lengthAdjust="spacingAndGlyphs" fill="#000" stroke="#000" stroke-width="0.5">A</text>
<text transform="translate(17.20,185.40) rotate(-90)" x="0" y="0" font-size="14.6" font-weight="bold" font-family="Liberation Sans, sans-serif" textLength="143.20" lengthAdjust="spacingAndGlyphs" fill="#111" stroke="#111" stroke-width="0.3">%Lin+/ H-2Kb+ cells</text>
<line x1="70.55" y1="313.80" x2="70.55" y2="293.40" stroke="#1a1a1a" stroke-width="1.25"/>
<line x1="68.05" y1="293.40" x2="73.05" y2="293.40" stroke="#1a1a1a" stroke-width="1.4"/>
<rect x="65.50" y="314.30" width="10.10" height="152.40" fill="url(#p33)" stroke="#000" stroke-width="1.1"/>
<line x1="81.65" y1="304.00" x2="81.65" y2="286.20" stroke="#1a1a1a" stroke-width="1.25"/>
<line x1="79.15" y1="286.20" x2="84.15" y2="286.20" stroke="#1a1a1a" stroke-width="1.4"/>
<rect x="76.60" y="304.50" width="10.10" height="162.20" fill="url(#p34)" stroke="#000" stroke-width="1.1"/>
<line x1="92.75" y1="337.00" x2="92.75" y2="315.90" stroke="#1a1a1a" stroke-width="1.25"/>
<line x1="90.25" y1="315.90" x2="95.25" y2="315.90" stroke="#1a1a1a" stroke-width="1.4"/>
<rect x="87.70" y="337.50" width="10.10" height="129.20" fill="url(#p35)" stroke="#000" stroke-width="1.1"/>
<line x1="103.85" y1="349.90" x2="103.85" y2="318.80" stroke="#1a1a1a" stroke-width="1.25"/>
<line x1="101.35" y1="318.80" x2="106.35" y2="318.80" stroke="#1a1a1a" stroke-width="1.4"/>
<rect x="98.80" y="350.40" width="10.10" height="116.30" fill="url(#p36)" stroke="#000" stroke-width="1.1"/>
<line x1="114.95" y1="361.10" x2="114.95" y2="332.70" stroke="#1a1a1a" stroke-width="1.25"/>
<line x1="112.45" y1="332.70" x2="117.45" y2="332.70" stroke="#1a1a1a" stroke-width="1.4"/>
<rect x="109.90" y="361.60" width="10.10" height="105.10" fill="url(#p37)" stroke="#000" stroke-width="1.1"/>
<line x1="126.05" y1="368.60" x2="126.05" y2="347.40" stroke="#1a1a1a" stroke-width="1.25"/>
<line x1="123.55" y1="347.40" x2="128.55" y2="347.40" stroke="#1a1a1a" stroke-width="1.4"/>
<rect x="121.00" y="369.10" width="10.10" height="97.60" fill="url(#p38)" stroke="#000" stroke-width="1.1"/>
<line x1="137.15" y1="369.50" x2="137.15" y2="344.10" stroke="#1a1a1a" stroke-width="1.25"/>
<line x1="134.65" y1="344.10" x2="139.65" y2="344.10" stroke="#1a1a1a" stroke-width="1.4"/>
<rect x="132.10" y="370.00" width="10.10" height="96.70" fill="url(#p39)" stroke="#000" stroke-width="1.1"/>
<line x1="148.25" y1="391.00" x2="148.25" y2="372.60" stroke="#1a1a1a" stroke-width="1.25"/>
<line x1="145.75" y1="372.60" x2="150.75" y2="372.60" stroke="#1a1a1a" stroke-width="1.4"/>
<rect x="143.20" y="391.50" width="10.10" height="75.20" fill="url(#p40)" stroke="#000" stroke-width="1.1"/>
<line x1="159.35" y1="342.10" x2="159.35" y2="339.20" stroke="#1a1a1a" stroke-width="1.25"/>
<line x1="156.85" y1="339.20" x2="161.85" y2="339.20" stroke="#1a1a1a" stroke-width="1.4"/>
<rect x="154.30" y="342.60" width="10.10" height="124.10" fill="#000" stroke="#000" stroke-width="1.1"/>
<path d="M93.00,305.30L93.00,310.10M90.92,306.50L95.08,308.90M90.92,308.90L95.08,306.50" stroke="#222" stroke-width="1.4" fill="none"/><circle cx="93.00" cy="307.70" r="1.3" fill="#111"/>
<path d="M103.80,305.30L103.80,310.10M101.72,306.50L105.88,308.90M101.72,308.90L105.88,306.50" stroke="#222" stroke-width="1.4" fill="none"/><circle cx="103.80" cy="307.70" r="1.3" fill="#111"/>
<line x1="185.65" y1="424.00" x2="185.65" y2="405.10" stroke="#1a1a1a" stroke-width="1.25"/>
<line x1="183.15" y1="405.10" x2="188.15" y2="405.10" stroke="#1a1a1a" stroke-width="1.4"/>
<rect x="180.60" y="424.50" width="10.10" height="42.20" fill="url(#p41)" stroke="#000" stroke-width="1.1"/>
<line x1="196.75" y1="435.50" x2="196.75" y2="423.70" stroke="#1a1a1a" stroke-width="1.25"/>
<line x1="194.25" y1="423.70" x2="199.25" y2="423.70" stroke="#1a1a1a" stroke-width="1.4"/>
<rect x="191.70" y="436.00" width="10.10" height="30.70" fill="url(#p42)" stroke="#000" stroke-width="1.1"/>
<line x1="207.85" y1="425.20" x2="207.85" y2="407.30" stroke="#1a1a1a" stroke-width="1.25"/>
<line x1="205.35" y1="407.30" x2="210.35" y2="407.30" stroke="#1a1a1a" stroke-width="1.4"/>
<rect x="202.80" y="425.70" width="10.10" height="41.00" fill="url(#p43)" stroke="#000" stroke-width="1.1"/>
<line x1="218.95" y1="415.40" x2="218.95" y2="400.40" stroke="#1a1a1a" stroke-width="1.25"/>
<line x1="216.45" y1="400.40" x2="221.45" y2="400.40" stroke="#1a1a1a" stroke-width="1.4"/>
<rect x="213.90" y="415.90" width="10.10" height="50.80" fill="url(#p44)" stroke="#000" stroke-width="1.1"/>
<line x1="230.05" y1="396.60" x2="230.05" y2="376.80" stroke="#1a1a1a" stroke-width="1.25"/>
<line x1="227.55" y1="376.80" x2="232.55" y2="376.80" stroke="#1a1a1a" stroke-width="1.4"/>
<rect x="225.00" y="397.10" width="10.10" height="69.60" fill="url(#p45)" stroke="#000" stroke-width="1.1"/>
<line x1="241.15" y1="406.20" x2="241.15" y2="380.50" stroke="#1a1a1a" stroke-width="1.25"/>
<line x1="238.65" y1="380.50" x2="243.65" y2="380.50" stroke="#1a1a1a" stroke-width="1.4"/>
<rect x="236.10" y="406.70" width="10.10" height="60.00" fill="url(#p46)" stroke="#000" stroke-width="1.1"/>
<line x1="252.25" y1="394.40" x2="252.25" y2="367.20" stroke="#1a1a1a" stroke-width="1.25"/>
<line x1="249.75" y1="367.20" x2="254.75" y2="367.20" stroke="#1a1a1a" stroke-width="1.4"/>
<rect x="247.20" y="394.90" width="10.10" height="71.80" fill="url(#p47)" stroke="#000" stroke-width="1.1"/>
<line x1="263.35" y1="397.30" x2="263.35" y2="374.10" stroke="#1a1a1a" stroke-width="1.25"/>
<line x1="260.85" y1="374.10" x2="265.85" y2="374.10" stroke="#1a1a1a" stroke-width="1.4"/>
<rect x="258.30" y="397.80" width="10.10" height="68.90" fill="url(#p48)" stroke="#000" stroke-width="1.1"/>
<line x1="274.45" y1="413.40" x2="274.45" y2="409.90" stroke="#1a1a1a" stroke-width="1.25"/>
<line x1="271.95" y1="409.90" x2="276.95" y2="409.90" stroke="#1a1a1a" stroke-width="1.4"/>
<rect x="269.40" y="413.90" width="10.10" height="52.80" fill="#000" stroke="#000" stroke-width="1.1"/>
<path d="M184.70,395.20L184.70,400.00M182.62,396.40L186.78,398.80M182.62,398.80L186.78,396.40" stroke="#222" stroke-width="1.4" fill="none"/><circle cx="184.70" cy="397.60" r="1.3" fill="#111"/>
<path d="M208.30,397.50L208.30,402.30M206.22,398.70L210.38,401.10M206.22,401.10L210.38,398.70" stroke="#222" stroke-width="1.4" fill="none"/><circle cx="208.30" cy="399.90" r="1.3" fill="#111"/>
<path d="M219.60,388.30L219.60,393.10M217.52,389.50L221.68,391.90M217.52,391.90L221.68,389.50" stroke="#222" stroke-width="1.4" fill="none"/><circle cx="219.60" cy="390.70" r="1.3" fill="#111"/>
<path d="M240.80,369.50L240.80,374.30M238.72,370.70L242.88,373.10M238.72,373.10L242.88,370.70" stroke="#222" stroke-width="1.4" fill="none"/><circle cx="240.80" cy="371.90" r="1.3" fill="#111"/>
<line x1="300.65" y1="440.10" x2="300.65" y2="433.60" stroke="#1a1a1a" stroke-width="1.25"/>
<line x1="298.15" y1="433.60" x2="303.15" y2="433.60" stroke="#1a1a1a" stroke-width="1.4"/>
<rect x="295.60" y="440.60" width="10.10" height="26.10" fill="url(#p49)" stroke="#000" stroke-width="1.1"/>
<line x1="311.75" y1="449.50" x2="311.75" y2="441.40" stroke="#1a1a1a" stroke-width="1.25"/>
<line x1="309.25" y1="441.40" x2="314.25" y2="441.40" stroke="#1a1a1a" stroke-width="1.4"/>
<rect x="306.70" y="450.00" width="10.10" height="16.70" fill="url(#p50)" stroke="#000" stroke-width="1.1"/>
<line x1="322.85" y1="435.10" x2="322.85" y2="423.90" stroke="#1a1a1a" stroke-width="1.25"/>
<line x1="320.35" y1="423.90" x2="325.35" y2="423.90" stroke="#1a1a1a" stroke-width="1.4"/>
<rect x="317.80" y="435.60" width="10.10" height="31.10" fill="url(#p51)" stroke="#000" stroke-width="1.1"/>
<line x1="333.95" y1="447.10" x2="333.95" y2="438.30" stroke="#1a1a1a" stroke-width="1.25"/>
<line x1="331.45" y1="438.30" x2="336.45" y2="438.30" stroke="#1a1a1a" stroke-width="1.4"/>
<rect x="328.90" y="447.60" width="10.10" height="19.10" fill="url(#p52)" stroke="#000" stroke-width="1.1"/>
<line x1="345.05" y1="435.40" x2="345.05" y2="427.70" stroke="#1a1a1a" stroke-width="1.25"/>
<line x1="342.55" y1="427.70" x2="347.55" y2="427.70" stroke="#1a1a1a" stroke-width="1.4"/>
<rect x="340.00" y="435.90" width="10.10" height="30.80" fill="url(#p53)" stroke="#000" stroke-width="1.1"/>
<line x1="356.15" y1="438.30" x2="356.15" y2="418.10" stroke="#1a1a1a" stroke-width="1.25"/>
<line x1="353.65" y1="418.10" x2="358.65" y2="418.10" stroke="#1a1a1a" stroke-width="1.4"/>
<rect x="351.10" y="438.80" width="10.10" height="27.90" fill="url(#p54)" stroke="#000" stroke-width="1.1"/>
<line x1="367.25" y1="434.70" x2="367.25" y2="421.60" stroke="#1a1a1a" stroke-width="1.25"/>
<line x1="364.75" y1="421.60" x2="369.75" y2="421.60" stroke="#1a1a1a" stroke-width="1.4"/>
<rect x="362.20" y="435.20" width="10.10" height="31.50" fill="url(#p55)" stroke="#000" stroke-width="1.1"/>
<line x1="378.35" y1="440.10" x2="378.35" y2="418.10" stroke="#1a1a1a" stroke-width="1.25"/>
<line x1="375.85" y1="418.10" x2="380.85" y2="418.10" stroke="#1a1a1a" stroke-width="1.4"/>
<rect x="373.30" y="440.60" width="10.10" height="26.10" fill="url(#p56)" stroke="#000" stroke-width="1.1"/>
<line x1="389.45" y1="448.80" x2="389.45" y2="446.40" stroke="#1a1a1a" stroke-width="1.25"/>
<line x1="386.95" y1="446.40" x2="391.95" y2="446.40" stroke="#1a1a1a" stroke-width="1.4"/>
<rect x="384.40" y="449.30" width="10.10" height="17.40" fill="#000" stroke="#000" stroke-width="1.1"/>
<path d="M309.10,434.30L309.10,439.10M307.02,435.50L311.18,437.90M307.02,437.90L311.18,435.50" stroke="#222" stroke-width="1.4" fill="none"/><circle cx="309.10" cy="436.70" r="1.3" fill="#111"/>
<path d="M333.70,424.90L333.70,429.70M331.62,426.10L335.78,428.50M331.62,428.50L335.78,426.10" stroke="#222" stroke-width="1.4" fill="none"/><circle cx="333.70" cy="427.30" r="1.3" fill="#111"/>
<path d="M355.70,406.50L355.70,411.30M353.62,407.70L357.78,410.10M353.62,410.10L357.78,407.70" stroke="#222" stroke-width="1.4" fill="none"/><circle cx="355.70" cy="408.90" r="1.3" fill="#111"/>
<path d="M376.60,406.50L376.60,411.30M374.52,407.70L378.68,410.10M374.52,410.10L378.68,407.70" stroke="#222" stroke-width="1.4" fill="none"/><circle cx="376.60" cy="408.90" r="1.3" fill="#111"/>
<line x1="415.75" y1="434.80" x2="415.75" y2="422.40" stroke="#1a1a1a" stroke-width="1.25"/>
<line x1="413.25" y1="422.40" x2="418.25" y2="422.40" stroke="#1a1a1a" stroke-width="1.4"/>
<rect x="410.70" y="435.30" width="10.10" height="31.40" fill="url(#p57)" stroke="#000" stroke-width="1.1"/>
<line x1="426.85" y1="445.30" x2="426.85" y2="435.60" stroke="#1a1a1a" stroke-width="1.25"/>
<line x1="424.35" y1="435.60" x2="429.35" y2="435.60" stroke="#1a1a1a" stroke-width="1.4"/>
<rect x="421.80" y="445.80" width="10.10" height="20.90" fill="url(#p58)" stroke="#000" stroke-width="1.1"/>
<line x1="437.95" y1="419.00" x2="437.95" y2="401.30" stroke="#1a1a1a" stroke-width="1.25"/>
<line x1="435.45" y1="401.30" x2="440.45" y2="401.30" stroke="#1a1a1a" stroke-width="1.4"/>
<rect x="432.90" y="419.50" width="10.10" height="47.20" fill="url(#p59)" stroke="#000" stroke-width="1.1"/>
<line x1="449.05" y1="427.90" x2="449.05" y2="412.70" stroke="#1a1a1a" stroke-width="1.25"/>
<line x1="446.55" y1="412.70" x2="451.55" y2="412.70" stroke="#1a1a1a" stroke-width="1.4"/>
<rect x="444.00" y="428.40" width="10.10" height="38.30" fill="url(#p60)" stroke="#000" stroke-width="1.1"/>
<line x1="460.15" y1="422.40" x2="460.15" y2="406.30" stroke="#1a1a1a" stroke-width="1.25"/>
<line x1="457.65" y1="406.30" x2="462.65" y2="406.30" stroke="#1a1a1a" stroke-width="1.4"/>
<rect x="455.10" y="422.90" width="10.10" height="43.80" fill="url(#p61)" stroke="#000" stroke-width="1.1"/>
<line x1="471.25" y1="426.70" x2="471.25" y2="408.50" stroke="#1a1a1a" stroke-width="1.25"/>
<line x1="468.75" y1="408.50" x2="473.75" y2="408.50" stroke="#1a1a1a" stroke-width="1.4"/>
<rect x="466.20" y="427.20" width="10.10" height="39.50" fill="url(#p62)" stroke="#000" stroke-width="1.1"/>
<line x1="482.35" y1="423.90" x2="482.35" y2="410.50" stroke="#1a1a1a" stroke-width="1.25"/>
<line x1="479.85" y1="410.50" x2="484.85" y2="410.50" stroke="#1a1a1a" stroke-width="1.4"/>
<rect x="477.30" y="424.40" width="10.10" height="42.30" fill="url(#p63)" stroke="#000" stroke-width="1.1"/>
<line x1="493.45" y1="422.30" x2="493.45" y2="400.10" stroke="#1a1a1a" stroke-width="1.25"/>
<line x1="490.95" y1="400.10" x2="495.95" y2="400.10" stroke="#1a1a1a" stroke-width="1.4"/>
<rect x="488.40" y="422.80" width="10.10" height="43.90" fill="url(#p64)" stroke="#000" stroke-width="1.1"/>
<line x1="504.55" y1="441.30" x2="504.55" y2="436.50" stroke="#1a1a1a" stroke-width="1.25"/>
<line x1="502.05" y1="436.50" x2="507.05" y2="436.50" stroke="#1a1a1a" stroke-width="1.4"/>
<rect x="499.50" y="441.80" width="10.10" height="24.90" fill="#000" stroke="#000" stroke-width="1.1"/>
<path d="M414.20,413.40L414.20,418.20M412.12,414.60L416.28,417.00M412.12,417.00L416.28,414.60" stroke="#222" stroke-width="1.4" fill="none"/><circle cx="414.20" cy="415.80" r="1.3" fill="#111"/>
<path d="M425.00,424.70L425.00,429.50M422.92,425.90L427.08,428.30M422.92,428.30L427.08,425.90" stroke="#222" stroke-width="1.4" fill="none"/><circle cx="425.00" cy="427.10" r="1.3" fill="#111"/>
<line x1="56.90" y1="258.40" x2="56.90" y2="469.20" stroke="#5a5a5a" stroke-width="1.6"/>
<line x1="53.60" y1="466.70" x2="517.10" y2="466.70" stroke="#333" stroke-width="1.3"/>
<line x1="53.40" y1="258.40" x2="56.90" y2="258.40" stroke="#333" stroke-width="1.3"/>
<line x1="53.40" y1="300.06" x2="56.90" y2="300.06" stroke="#333" stroke-width="1.3"/>
<line x1="53.40" y1="341.72" x2="56.90" y2="341.72" stroke="#333" stroke-width="1.3"/>
<line x1="53.40" y1="383.38" x2="56.90" y2="383.38" stroke="#333" stroke-width="1.3"/>
<line x1="53.40" y1="425.04" x2="56.90" y2="425.04" stroke="#333" stroke-width="1.3"/>
<line x1="53.40" y1="466.70" x2="56.90" y2="466.70" stroke="#333" stroke-width="1.3"/>
<line x1="171.95" y1="466.70" x2="171.95" y2="469.20" stroke="#333" stroke-width="1.1"/>
<line x1="287.00" y1="466.70" x2="287.00" y2="469.20" stroke="#333" stroke-width="1.1"/>
<line x1="402.05" y1="466.70" x2="402.05" y2="469.20" stroke="#333" stroke-width="1.1"/>
<line x1="517.10" y1="466.70" x2="517.10" y2="469.20" stroke="#333" stroke-width="1.1"/>
<text x="22.80" y="266.04" font-size="13.8" font-family="Liberation Sans, sans-serif" textLength="24.0" lengthAdjust="spacingAndGlyphs" fill="#111" stroke="#111" stroke-width="0.3">100</text>
<text x="29.60" y="306.74" font-size="13.8" font-family="Liberation Sans, sans-serif" textLength="17.2" lengthAdjust="spacingAndGlyphs" fill="#111" stroke="#111" stroke-width="0.3">80</text>
<text x="29.60" y="347.14" font-size="13.8" font-family="Liberation Sans, sans-serif" textLength="17.2" lengthAdjust="spacingAndGlyphs" fill="#111" stroke="#111" stroke-width="0.3">60</text>
<text x="29.60" y="389.64" font-size="13.8" font-family="Liberation Sans, sans-serif" textLength="17.2" lengthAdjust="spacingAndGlyphs" fill="#111" stroke="#111" stroke-width="0.3">40</text>
<text x="29.60" y="431.94" font-size="13.8" font-family="Liberation Sans, sans-serif" textLength="17.2" lengthAdjust="spacingAndGlyphs" fill="#111" stroke="#111" stroke-width="0.3">20</text>
<text x="39.00" y="474.74" font-size="13.8" font-family="Liberation Sans, sans-serif" textLength="7.8" lengthAdjust="spacingAndGlyphs" fill="#111" stroke="#111" stroke-width="0.3">0</text>
<text x="94.10" y="484.40" font-size="12.6" font-weight="bold" font-family="Liberation Sans, sans-serif" textLength="24.20" lengthAdjust="spacingAndGlyphs" fill="#111" stroke="#111" stroke-width="0.45">CD3</text>
<text x="219.60" y="484.40" font-size="12.6" font-weight="bold" font-family="Liberation Sans, sans-serif" textLength="27.90" lengthAdjust="spacingAndGlyphs" fill="#111" stroke="#111" stroke-width="0.45">B220</text>
<text x="334.10" y="484.40" font-size="12.6" font-weight="bold" font-family="Liberation Sans, sans-serif" textLength="23.70" lengthAdjust="spacingAndGlyphs" fill="#111" stroke="#111" stroke-width="0.45">Gr-1</text>
<text x="451.00" y="484.40" font-size="12.6" font-weight="bold" font-family="Liberation Sans, sans-serif" textLength="33.40" lengthAdjust="spacingAndGlyphs" fill="#111" stroke="#111" stroke-width="0.45">Mac-1</text>
<text x="1.30" y="267.80" font-size="19.3" font-weight="bold" font-family="Liberation Sans, sans-serif" textLength="10.60" lengthAdjust="spacingAndGlyphs" fill="#000" stroke="#000" stroke-width="0.5">B</text>
<text transform="translate(13.40,457.40) rotate(-90)" x="0" y="0" font-size="14.6" font-weight="bold" font-family="Liberation Sans, sans-serif" textLength="137.30" lengthAdjust="spacingAndGlyphs" fill="#111" stroke="#111" stroke-width="0.3">% Lin+/H-2Kb+cells</text>
<rect x="31.6" y="497.2" width="487.6" height="59.5" fill="none" stroke="#444" stroke-width="1.3"/>
<g clip-path="url(#c1)"><rect x="41.1" y="505.2" width="10.2" height="9.2" fill="#000"/><line x1="20.10" y1="503.20" x2="33.30" y2="516.40" stroke="#fff" stroke-width="1.4"/><line x1="25.10" y1="503.20" x2="38.30" y2="516.40" stroke="#fff" stroke-width="1.4"/><line x1="30.10" y1="503.20" x2="43.30" y2="516.40" stroke="#fff" stroke-width="1.4"/><line x1="35.10" y1="503.20" x2="48.30" y2="516.40" stroke="#fff" stroke-width="1.4"/><line x1="40.10" y1="503.20" x2="53.30" y2="516.40" stroke="#fff" stroke-width="1.4"/><line x1="45.10" y1="503.20" x2="58.30" y2="516.40" stroke="#fff" stroke-width="1.4"/><line x1="50.10" y1="503.20" x2="63.30" y2="516.40" stroke="#fff" stroke-width="1.4"/><line x1="55.10" y1="503.20" x2="68.30" y2="516.40" stroke="#fff" stroke-width="1.4"/><line x1="60.10" y1="503.20" x2="73.30" y2="516.40" stroke="#fff" stroke-width="1.4"/><line x1="65.10" y1="503.20" x2="78.30" y2="516.40" stroke="#fff" stroke-width="1.4"/></g>
<rect x="40.60" y="504.70" width="11.20" height="10.20" fill="none" stroke="#000" stroke-width="1.4"/>
<text x="65.80" y="514.30" font-size="11.3" font-family="Liberation Sans, sans-serif" fill="#111" stroke="#111" stroke-width="0.2">O cGy/8 wks after</text>
<g clip-path="url(#c2)"><rect x="41.1" y="521.2" width="10.2" height="9.2" fill="#fff"/><rect x="41.1" y="524.70" width="10.2" height="2.2" fill="#000"/></g>
<rect x="40.60" y="520.70" width="11.20" height="10.20" fill="none" stroke="#000" stroke-width="1.4"/>
<text x="70.40" y="530.30" font-size="11.3" font-family="Liberation Sans, sans-serif" fill="#111" stroke="#111" stroke-width="0.2">82.5 cGy/24 wks after</text>
<g clip-path="url(#c3)"><rect x="41.1" y="539.1" width="10.2" height="9.2" fill="#000"/><rect x="43.90" y="539.10" width="5.1" height="4.60" fill="#fff"/><rect x="41.10" y="543.70" width="2.80" height="4.60" fill="#fff"/><rect x="49.00" y="543.70" width="2.30" height="4.60" fill="#fff"/></g>
<rect x="40.60" y="538.60" width="11.20" height="10.20" fill="none" stroke="#000" stroke-width="1.4"/>
<text x="70.40" y="548.20" font-size="11.3" font-family="Liberation Sans, sans-serif" fill="#111" stroke="#111" stroke-width="0.2">276 cGy/8 wks after</text>
<g clip-path="url(#c4)"><rect x="209.29999999999998" y="505.2" width="10.2" height="9.2" fill="#fff"/><line x1="188.30" y1="516.40" x2="201.50" y2="503.20" stroke="#000" stroke-width="1.4"/><line x1="193.30" y1="516.40" x2="206.50" y2="503.20" stroke="#000" stroke-width="1.4"/><line x1="198.30" y1="516.40" x2="211.50" y2="503.20" stroke="#000" stroke-width="1.4"/><line x1="203.30" y1="516.40" x2="216.50" y2="503.20" stroke="#000" stroke-width="1.4"/><line x1="208.30" y1="516.40" x2="221.50" y2="503.20" stroke="#000" stroke-width="1.4"/><line x1="213.30" y1="516.40" x2="226.50" y2="503.20" stroke="#000" stroke-width="1.4"/><line x1="218.30" y1="516.40" x2="231.50" y2="503.20" stroke="#000" stroke-width="1.4"/><line x1="223.30" y1="516.40" x2="236.50" y2="503.20" stroke="#000" stroke-width="1.4"/><line x1="228.30" y1="516.40" x2="241.50" y2="503.20" stroke="#000" stroke-width="1.4"/><line x1="233.30" y1="516.40" x2="246.50" y2="503.20" stroke="#000" stroke-width="1.4"/></g>
<rect x="208.80" y="504.70" width="11.20" height="10.20" fill="none" stroke="#000" stroke-width="1.4"/>
<text x="237.20" y="514.30" font-size="11.3" font-family="Liberation Sans, sans-serif" fill="#111" stroke="#111" stroke-width="0.2">O cGy/24 wks after</text>
<g clip-path="url(#c5)"><rect x="209.29999999999998" y="521.7" width="10.2" height="9.2" fill="#000"/><line x1="209.60" y1="524.00" x2="213.30" y2="527.80" stroke="#888" stroke-width="0.8"/><line x1="214.10" y1="523.70" x2="218.80" y2="527.80" stroke="#888" stroke-width="0.8"/></g>
<rect x="208.80" y="521.20" width="11.20" height="10.20" fill="none" stroke="#000" stroke-width="1.4"/>
<text x="227.10" y="530.80" font-size="11.3" font-family="Liberation Sans, sans-serif" fill="#111" stroke="#111" stroke-width="0.2">138 cGy/8 wks after</text>
<g clip-path="url(#c6)"><rect x="209.29999999999998" y="538.4000000000001" width="10.2" height="9.2" fill="#000"/><rect x="210.10" y="539.20" width="3.4" height="3.1" fill="#fff"/><rect x="215.10" y="539.20" width="3.4" height="3.1" fill="#fff"/><rect x="210.10" y="543.80" width="3.4" height="3.1" fill="#fff"/><rect x="215.10" y="543.80" width="3.4" height="3.1" fill="#fff"/></g>
<rect x="208.80" y="537.90" width="11.20" height="10.20" fill="none" stroke="#000" stroke-width="1.4"/>
<text x="227.10" y="547.50" font-size="11.3" font-family="Liberation Sans, sans-serif" fill="#111" stroke="#111" stroke-width="0.2">276 cGy/24 wks after</text>
<g clip-path="url(#c7)"><rect x="370.59999999999997" y="505.2" width="10.2" height="9.2" fill="#222"/><rect x="372.20" y="505.2" width="0.9" height="9.2" fill="#ddd"/><rect x="374.50" y="505.2" width="0.9" height="9.2" fill="#ddd"/><rect x="376.80" y="505.2" width="0.9" height="9.2" fill="#ddd"/><rect x="379.10" y="505.2" width="0.9" height="9.2" fill="#ddd"/></g>
<rect x="370.10" y="504.70" width="11.20" height="10.20" fill="none" stroke="#000" stroke-width="1.4"/>
<text x="386.90" y="514.30" font-size="11.3" font-family="Liberation Sans, sans-serif" fill="#111" stroke="#111" stroke-width="0.2">82.5 cGy/8 wks after</text>
<g clip-path="url(#c8)"><rect x="370.59999999999997" y="521.8000000000001" width="10.2" height="9.2" fill="#fff"/><line x1="371.20" y1="527.10" x2="374.90" y2="523.60" stroke="#000" stroke-width="1.2"/><line x1="376.30" y1="526.20" x2="380.10" y2="522.80" stroke="#000" stroke-width="1.2"/><line x1="378.90" y1="531.10" x2="380.90" y2="529.10" stroke="#000" stroke-width="1.0"/></g>
<rect x="370.10" y="521.30" width="11.20" height="10.20" fill="none" stroke="#000" stroke-width="1.4"/>
<text x="388.10" y="530.90" font-size="11.3" font-family="Liberation Sans, sans-serif" fill="#111" stroke="#111" stroke-width="0.2">138 cGy/24 wks after</text>
<g clip-path="url(#c9)"><rect x="370.59999999999997" y="538.7" width="10.2" height="9.2" fill="#000"/></g>
<rect x="370.10" y="538.20" width="11.20" height="10.20" fill="none" stroke="#000" stroke-width="1.4"/>
<text x="387.80" y="547.80" font-size="11.3" font-family="Liberation Sans, sans-serif" fill="#111" stroke="#111" stroke-width="0.2">B6Pep3b control</text></svg>
</body></html>
